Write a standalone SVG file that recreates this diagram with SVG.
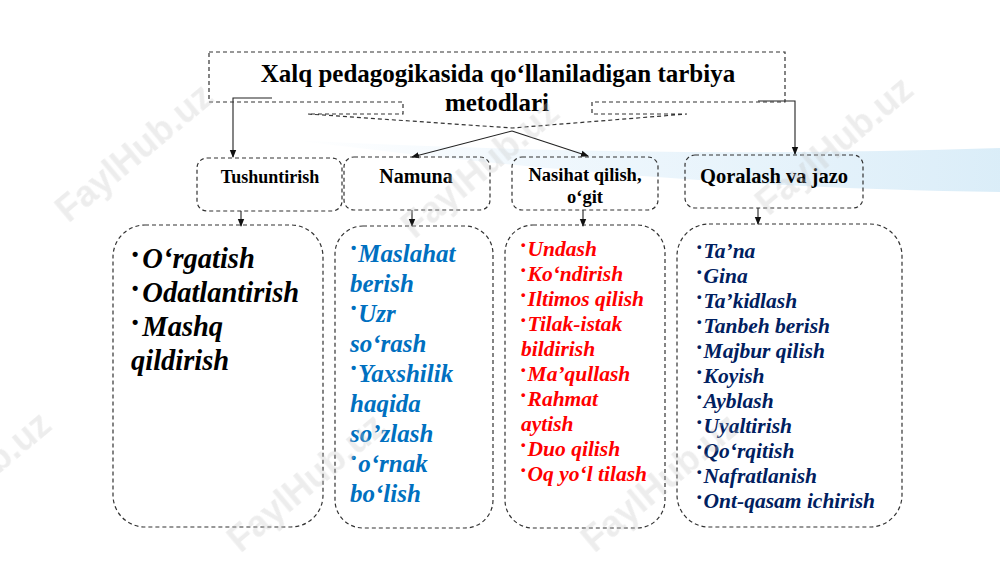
<svg xmlns="http://www.w3.org/2000/svg" width="1000" height="562" viewBox="0 0 1000 562">
<defs>
<linearGradient id="sw" x1="0" y1="0" x2="1" y2="0">
<stop offset="0" stop-color="#e3f1fb" stop-opacity="0"/>
<stop offset="0.35" stop-color="#e3f1fb" stop-opacity="0.55"/>
<stop offset="1" stop-color="#d4eaf7" stop-opacity="0.85"/>
</linearGradient>
<marker id="ah" markerWidth="8" markerHeight="8" refX="7" refY="4" orient="auto" markerUnits="userSpaceOnUse">
<path d="M0,0.8 L8,4 L0,7.2 Z" fill="#111"/>
</marker>
<style>
.box{fill:none;stroke:#333;stroke-width:1.2;stroke-dasharray:4 3}
.con{fill:none;stroke:#222;stroke-width:1.1}
</style>
</defs>
<rect width="1000" height="562" fill="#fff"/>
<path d="M292,140 C520,152 760,156 1000,148 L1000,192 C800,190 560,174 292,140 Z" fill="url(#sw)"/>

<g id="connectors">
<polyline class="con" points="272,98 233,98 233,157" marker-end="url(#ah)"/>
<polyline class="con" points="758,101 795,101 795,154" marker-end="url(#ah)"/>
<line class="con" x1="512" y1="131" x2="412" y2="157" marker-end="url(#ah)"/>
<line class="con" x1="512" y1="131" x2="588" y2="156" marker-end="url(#ah)"/>
<line class="con" x1="241" y1="211" x2="241" y2="226" marker-end="url(#ah)"/>
<line class="con" x1="412" y1="210" x2="412" y2="226" marker-end="url(#ah)"/>
<line class="con" x1="583" y1="210" x2="583" y2="226" marker-end="url(#ah)"/>
<line class="con" x1="758" y1="208" x2="758" y2="224" marker-end="url(#ah)"/>
</g>

<g id="title">
<path class="box" d="M209,52 H785 V102 H592 V114 H687 L512,128 L308,114 H403 V102 H209 Z"/>
<text x="498" y="82" font-family="Liberation Serif" font-weight="bold" font-size="25" text-anchor="middle">Xalq pedagogikasida qo‘llaniladigan tarbiya</text>
<text x="497" y="111" font-family="Liberation Serif" font-weight="bold" font-size="25" text-anchor="middle">metodlari</text>
</g>

<g id="n-tushuntirish">
<rect class="box" x="197" y="158" width="145" height="53" rx="10"/>
<text x="270" y="183" font-family="Liberation Serif" font-weight="bold" font-size="18" text-anchor="middle">Tushuntirish</text>
</g>
<g id="n-namuna">
<rect class="box" x="344" y="157" width="146" height="53" rx="10"/>
<text x="416" y="183" font-family="Liberation Serif" font-weight="bold" font-size="20" text-anchor="middle">Namuna</text>
</g>
<g id="n-nasihat">
<rect class="box" x="512" y="157" width="146" height="53" rx="10"/>
<text x="585" y="181" font-family="Liberation Serif" font-weight="bold" font-size="18.5" text-anchor="middle">Nasihat qilish,</text>
<text x="585" y="203" font-family="Liberation Serif" font-weight="bold" font-size="18.5" text-anchor="middle">o‘git</text>
</g>
<g id="n-qoralash">
<rect class="box" x="685" y="155" width="178" height="53" rx="10"/>
<text x="774" y="183" font-family="Liberation Serif" font-weight="bold" font-size="20.5" text-anchor="middle">Qoralash va jazo</text>
</g>

<g id="l-tushuntirish">
<rect class="box" x="113" y="225" width="210" height="302" rx="32"/>
<text x="132" y="268" font-family="Liberation Serif" font-weight="bold" font-style="italic" font-size="28.5" fill="#000"><tspan font-family="Liberation Sans" font-style="normal" font-size="18" dy="-8">•</tspan><tspan dx="4" dy="8">O‘rgatish</tspan></text>
<text x="132" y="302" font-family="Liberation Serif" font-weight="bold" font-style="italic" font-size="28.5" fill="#000"><tspan font-family="Liberation Sans" font-style="normal" font-size="18" dy="-8">•</tspan><tspan dx="4" dy="8">Odatlantirish</tspan></text>
<text x="132" y="336" font-family="Liberation Serif" font-weight="bold" font-style="italic" font-size="28.5" fill="#000"><tspan font-family="Liberation Sans" font-style="normal" font-size="18" dy="-8">•</tspan><tspan dx="4" dy="8">Mashq</tspan></text>
<text x="131" y="370" font-family="Liberation Serif" font-weight="bold" font-style="italic" font-size="28.5" fill="#000">qildirish</text>
</g>

<g id="l-namuna">
<rect class="box" x="335" y="226" width="158" height="302" rx="28"/>
<text x="351" y="262" font-family="Liberation Serif" font-weight="bold" font-style="italic" font-size="25" fill="#0070C0"><tspan font-family="Liberation Sans" font-style="normal" font-size="15" dy="-9">•</tspan><tspan dx="2" dy="9">Maslahat</tspan></text>
<text x="350" y="292" font-family="Liberation Serif" font-weight="bold" font-style="italic" font-size="25" fill="#0070C0">berish</text>
<text x="351" y="322" font-family="Liberation Serif" font-weight="bold" font-style="italic" font-size="25" fill="#0070C0"><tspan font-family="Liberation Sans" font-style="normal" font-size="15" dy="-9">•</tspan><tspan dx="2" dy="9">Uzr</tspan></text>
<text x="350" y="352" font-family="Liberation Serif" font-weight="bold" font-style="italic" font-size="25" fill="#0070C0">so‘rash</text>
<text x="351" y="382" font-family="Liberation Serif" font-weight="bold" font-style="italic" font-size="25" fill="#0070C0"><tspan font-family="Liberation Sans" font-style="normal" font-size="15" dy="-9">•</tspan><tspan dx="2" dy="9">Yaxshilik</tspan></text>
<text x="350" y="412" font-family="Liberation Serif" font-weight="bold" font-style="italic" font-size="25" fill="#0070C0">haqida</text>
<text x="350" y="442" font-family="Liberation Serif" font-weight="bold" font-style="italic" font-size="25" fill="#0070C0">so’zlash</text>
<text x="351" y="472" font-family="Liberation Serif" font-weight="bold" font-style="italic" font-size="25" fill="#0070C0"><tspan font-family="Liberation Sans" font-style="normal" font-size="15" dy="-9">•</tspan><tspan dx="2" dy="9">o‘rnak</tspan></text>
<text x="350" y="502" font-family="Liberation Serif" font-weight="bold" font-style="italic" font-size="25" fill="#0070C0">bo‘lish</text>
</g>

<g id="l-nasihat">
<rect class="box" x="505" y="225" width="160" height="303" rx="28"/>
<text x="521" y="256" font-family="Liberation Serif" font-weight="bold" font-style="italic" font-size="21.5" fill="#FF0000"><tspan font-family="Liberation Sans" font-style="normal" font-size="13" dy="-7">•</tspan><tspan dx="2" dy="7">Undash</tspan></text>
<text x="521" y="281" font-family="Liberation Serif" font-weight="bold" font-style="italic" font-size="21.5" fill="#FF0000"><tspan font-family="Liberation Sans" font-style="normal" font-size="13" dy="-7">•</tspan><tspan dx="2" dy="7">Ko‘ndirish</tspan></text>
<text x="521" y="306" font-family="Liberation Serif" font-weight="bold" font-style="italic" font-size="21.5" fill="#FF0000"><tspan font-family="Liberation Sans" font-style="normal" font-size="13" dy="-7">•</tspan><tspan dx="2" dy="7">Iltimos qilish</tspan></text>
<text x="521" y="331" font-family="Liberation Serif" font-weight="bold" font-style="italic" font-size="21.5" fill="#FF0000"><tspan font-family="Liberation Sans" font-style="normal" font-size="13" dy="-7">•</tspan><tspan dx="2" dy="7">Tilak-istak</tspan></text>
<text x="521" y="356" font-family="Liberation Serif" font-weight="bold" font-style="italic" font-size="21.5" fill="#FF0000">bildirish</text>
<text x="521" y="381" font-family="Liberation Serif" font-weight="bold" font-style="italic" font-size="21.5" fill="#FF0000"><tspan font-family="Liberation Sans" font-style="normal" font-size="13" dy="-7">•</tspan><tspan dx="2" dy="7">Ma’qullash</tspan></text>
<text x="521" y="406" font-family="Liberation Serif" font-weight="bold" font-style="italic" font-size="21.5" fill="#FF0000"><tspan font-family="Liberation Sans" font-style="normal" font-size="13" dy="-7">•</tspan><tspan dx="2" dy="7">Rahmat</tspan></text>
<text x="521" y="431" font-family="Liberation Serif" font-weight="bold" font-style="italic" font-size="21.5" fill="#FF0000">aytish</text>
<text x="521" y="456" font-family="Liberation Serif" font-weight="bold" font-style="italic" font-size="21.5" fill="#FF0000"><tspan font-family="Liberation Sans" font-style="normal" font-size="13" dy="-7">•</tspan><tspan dx="2" dy="7">Duo qilish</tspan></text>
<text x="521" y="481" font-family="Liberation Serif" font-weight="bold" font-style="italic" font-size="21.5" fill="#FF0000"><tspan font-family="Liberation Sans" font-style="normal" font-size="13" dy="-7">•</tspan><tspan dx="2" dy="7">Oq yo‘l tilash</tspan></text>
</g>

<g id="l-qoralash">
<rect class="box" x="677" y="224" width="225" height="303" rx="32"/>
<text x="697" y="258" font-family="Liberation Serif" font-weight="bold" font-style="italic" font-size="21.5" fill="#002060"><tspan font-family="Liberation Sans" font-style="normal" font-size="13" dy="-7">•</tspan><tspan dx="2" dy="7">Ta’na</tspan></text>
<text x="697" y="283" font-family="Liberation Serif" font-weight="bold" font-style="italic" font-size="21.5" fill="#002060"><tspan font-family="Liberation Sans" font-style="normal" font-size="13" dy="-7">•</tspan><tspan dx="2" dy="7">Gina</tspan></text>
<text x="697" y="308" font-family="Liberation Serif" font-weight="bold" font-style="italic" font-size="21.5" fill="#002060"><tspan font-family="Liberation Sans" font-style="normal" font-size="13" dy="-7">•</tspan><tspan dx="2" dy="7">Ta’kidlash</tspan></text>
<text x="697" y="333" font-family="Liberation Serif" font-weight="bold" font-style="italic" font-size="21.5" fill="#002060"><tspan font-family="Liberation Sans" font-style="normal" font-size="13" dy="-7">•</tspan><tspan dx="2" dy="7">Tanbeh berish</tspan></text>
<text x="697" y="358" font-family="Liberation Serif" font-weight="bold" font-style="italic" font-size="21.5" fill="#002060"><tspan font-family="Liberation Sans" font-style="normal" font-size="13" dy="-7">•</tspan><tspan dx="2" dy="7">Majbur qilish</tspan></text>
<text x="697" y="383" font-family="Liberation Serif" font-weight="bold" font-style="italic" font-size="21.5" fill="#002060"><tspan font-family="Liberation Sans" font-style="normal" font-size="13" dy="-7">•</tspan><tspan dx="2" dy="7">Koyish</tspan></text>
<text x="697" y="408" font-family="Liberation Serif" font-weight="bold" font-style="italic" font-size="21.5" fill="#002060"><tspan font-family="Liberation Sans" font-style="normal" font-size="13" dy="-7">•</tspan><tspan dx="2" dy="7">Ayblash</tspan></text>
<text x="697" y="433" font-family="Liberation Serif" font-weight="bold" font-style="italic" font-size="21.5" fill="#002060"><tspan font-family="Liberation Sans" font-style="normal" font-size="13" dy="-7">•</tspan><tspan dx="2" dy="7">Uyaltirish</tspan></text>
<text x="697" y="458" font-family="Liberation Serif" font-weight="bold" font-style="italic" font-size="21.5" fill="#002060"><tspan font-family="Liberation Sans" font-style="normal" font-size="13" dy="-7">•</tspan><tspan dx="2" dy="7">Qo‘rqitish</tspan></text>
<text x="697" y="483" font-family="Liberation Serif" font-weight="bold" font-style="italic" font-size="21.5" fill="#002060"><tspan font-family="Liberation Sans" font-style="normal" font-size="13" dy="-7">•</tspan><tspan dx="2" dy="7">Nafratlanish</tspan></text>
<text x="697" y="508" font-family="Liberation Serif" font-weight="bold" font-style="italic" font-size="21.5" fill="#002060"><tspan font-family="Liberation Sans" font-style="normal" font-size="13" dy="-7">•</tspan><tspan dx="2" dy="7">Ont-qasam ichirish</tspan></text>
</g>

<g id="watermarks" font-family="Liberation Sans" font-weight="bold" font-size="36" fill="#c4c4c4" opacity="0.3" text-anchor="middle">
<text transform="translate(142,162) rotate(-40)">FaylHub.uz</text>
<text transform="translate(488,178) rotate(-40)">FaylHub.uz</text>
<text transform="translate(842,155) rotate(-40)">FaylHub.uz</text>
<text transform="translate(-20,490) rotate(-40)">FaylHub.uz</text>
<text transform="translate(314,492) rotate(-40)">FaylHub.uz</text>
<text transform="translate(668,492) rotate(-40)">FaylHub.uz</text>
</g>
</svg>
